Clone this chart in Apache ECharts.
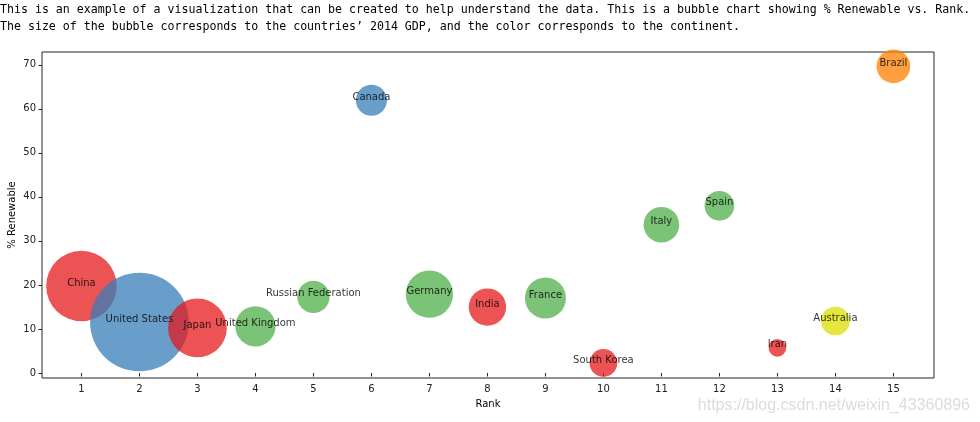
<!DOCTYPE html>
<html><head><meta charset="utf-8">
<script src="https://cdn.jsdelivr.net/npm/echarts@6/dist/echarts.min.js"></script>
<style>html,body{margin:0;padding:0;background:#fff}#c{width:980px;height:422px}</style>
</head><body><div id="c"></div>
<script>
const countries = ['China','United States','Japan','United Kingdom','Russian Federation','Canada','Germany','India','France','South Korea','Italy','Spain','Iran','Australia','Brazil'];
const ranks = [1,2,3,4,5,6,7,8,9,10,11,12,13,14,15];
const renewable = [19.75,11.57,10.23,10.60,17.29,61.95,17.90,14.97,17.02,2.28,33.67,37.97,5.71,11.81,69.65];
const gdp2014 = [8.63,16.9,5.98,2.82,1.81,1.67,3.88,2.42,2.92,1.33,2.21,1.53,0.54,1.43,1.97];
const colors = ['#e41a1c','#377eb8','#e41a1c','#4daf4a','#4daf4a','#377eb8','#4daf4a','#e41a1c','#4daf4a','#e41a1c','#4daf4a','#4daf4a','#e41a1c','#dede00','#ff7f00'];
const xTicks = [1,2,3,4,5,6,7,8,9,10,11,12,13,14,15];
const yTicks = [0,10,20,30,40,50,60,70];
const titleLines = ['This is an example of a visualization that can be created to help understand the data. This is a bubble chart showing % Renewable vs. Rank.',
  'The size of the bubble corresponds to the countries\u2019 2014 GDP, and the color corresponds to the continent.'];

const bubbles = countries.map((n,i)=>({name:n, value:[ranks[i], renewable[i], gdp2014[i]], itemStyle:{color:colors[i], opacity:0.75}}));
const labels = countries.map((n,i)=>({name:n, value:[ranks[i], renewable[i], gdp2014[i]]}));
const axisCol = '#262626';
const chart = echarts.init(document.getElementById('c'), null, {renderer:'canvas'});
chart.setOption({
  animation:false,
  title:{text:titleLines.join('\n'), left:0, top:1, padding:0,
    textStyle:{fontFamily:'DejaVu Sans Mono', fontSize:11.6, fontWeight:'normal', color:'#000', lineHeight:17}},
  graphic:[{type:'text', right:10, bottom:8, style:{text:'https://blog.csdn.net/weixin_43360896', fill:'#dcdcdc', font:'16px "Liberation Sans"'}}],
  grid:{left:42, right:46, top:52, bottom:44, show:true, borderColor:axisCol, borderWidth:1, backgroundColor:'transparent', outerBoundsMode:'none', containLabel:false},
  xAxis:{type:'value', min:0.32, max:15.7, name:'Rank', nameLocation:'middle', nameGap:21, nameMoveOverlap:false,
    nameTextStyle:{fontFamily:'DejaVu Sans', fontSize:10, color:'#000'},
    axisLine:{show:false}, splitLine:{show:false},
    axisTick:{show:true, inside:false, length:3.5, lineStyle:{color:axisCol}, customValues:xTicks},
    axisLabel:{fontFamily:'DejaVu Sans', fontSize:10, color:'#222', margin:6, customValues:xTicks}},
  yAxis:{type:'value', min:-1.14, max:72.9, name:'% Renewable', nameLocation:'middle', nameGap:25, nameRotate:90, nameMoveOverlap:false,
    nameTextStyle:{fontFamily:'DejaVu Sans', fontSize:10, color:'#000'},
    axisLine:{show:false}, splitLine:{show:false},
    axisTick:{show:true, inside:false, length:3.5, lineStyle:{color:axisCol}, customValues:yTicks},
    axisLabel:{fontFamily:'DejaVu Sans', fontSize:10, color:'#222', margin:6, customValues:yTicks}},
  series:[
    {type:'scatter', data:bubbles, symbol:'circle', symbolSize:v=>24*Math.sqrt(v[2]), silent:true, z:2},
    {type:'scatter', data:labels, symbol:'circle', symbolSize:1, itemStyle:{color:'rgba(0,0,0,0)'}, silent:true, z:3,
      label:{show:true, position:'inside', formatter:p=>p.name, fontFamily:'DejaVu Sans', fontSize:10, color:'#000', offset:[0,-3]}}
  ]
});
</script></body></html>
